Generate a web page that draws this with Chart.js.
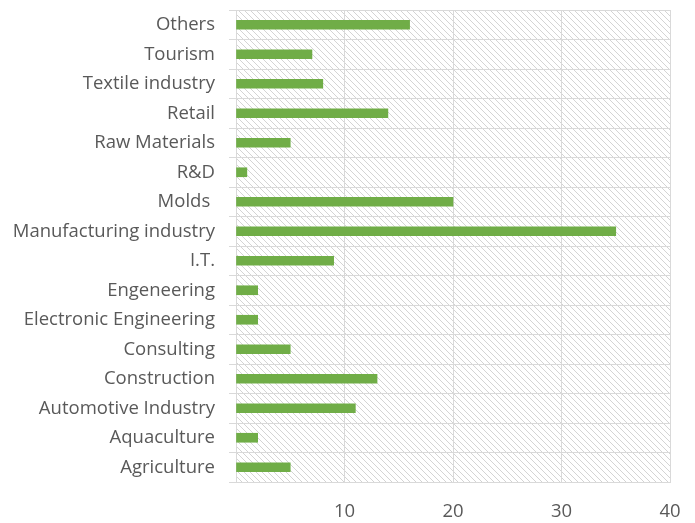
<!DOCTYPE html>
<html>
<head>
<meta charset="utf-8">
<script src="https://cdn.jsdelivr.net/npm/chart.js@4/dist/chart.umd.min.js"></script>
<style>
  html, body { margin: 0; padding: 0; background: #ffffff; }
  #wrap { width: 695px; height: 523px; }
</style>
</head>
<body>
<div id="wrap"><canvas id="myChart"></canvas></div>
<script>
'use strict';

// sectors, listed top to bottom
let sectors = [
  'Others',
  'Tourism',
  'Textile industry',
  'Retail',
  'Raw Materials',
  'R&D',
  'Molds ',
  'Manufacturing industry',
  'I.T.',
  'Engeneering',
  'Electronic Engineering',
  'Consulting',
  'Construction',
  'Automotive Industry',
  'Aquaculture',
  'Agriculture'
];

let counts = [16, 7, 8, 14, 5, 1, 20, 35, 9, 2, 2, 5, 13, 11, 2, 5];

let xTicks = [0, 10, 20, 30, 40];

let textColor = '#595959';
let lineColor = '#d9d9d9';
let barColor = '#70ad47';
let labelFont = { family: 'Open Sans', size: 18.5 };

// light downward-diagonal hatch for the plot area
function makeHatch() {
  let tile = document.createElement('canvas');
  tile.width = 6;
  tile.height = 6;
  let t = tile.getContext('2d');
  t.fillStyle = '#ffffff';
  t.fillRect(0, 0, 6, 6);
  t.fillStyle = '#d4d4d4';
  for (let i = 0; i < 6; i++) {
    t.fillRect(i, i, 1, 1);
  }
  return t.createPattern(tile, 'repeat');
}

const hatchBackground = {
  id: 'hatchBackground',
  beforeDraw(chart) {
    const area = chart.chartArea;
    const ctx = chart.ctx;
    ctx.save();
    ctx.fillStyle = makeHatch();
    ctx.fillRect(area.left, area.top, area.right - area.left, area.bottom - area.top);
    ctx.restore();
  }
};

const ctx = document.getElementById('myChart');
const myChart = new Chart(ctx, {
  type: 'bar',
  data: {
    labels: sectors,
    datasets: [{
      data: counts,
      backgroundColor: barColor,
      borderWidth: 0,
      barThickness: 9
    }]
  },
  plugins: [hatchBackground],
  options: {
    indexAxis: 'y',
    responsive: true,
    maintainAspectRatio: false,
    animation: false,
    layout: {
      padding: { left: 0, right: 25, top: 10, bottom: 0 }
    },
    plugins: {
      legend: { display: false },
      tooltip: { enabled: false }
    },
    scales: {
      x: {
        min: xTicks[0],
        max: xTicks[xTicks.length - 1],
        afterBuildTicks: function (scale) {
          scale.ticks = xTicks.map(function (v) { return { value: v }; });
        },
        afterFit: function (scale) {
          scale.height = 41;
          scale.paddingRight = 0;
        },
        ticks: {
          color: textColor,
          font: labelFont,
          padding: 19,
          callback: function (value) { return value === 0 ? '' : value; }
        },
        grid: {
          color: lineColor,
          lineWidth: 1,
          drawTicks: false
        },
        border: { color: lineColor, width: 1 }
      },
      y: {
        afterFit: function (scale) {
          scale.width = 236;
          scale.paddingTop = 0;
          scale.paddingBottom = 0;
        },
        ticks: {
          color: textColor,
          font: labelFont,
          padding: 14
        },
        grid: {
          color: lineColor,
          lineWidth: 1,
          offset: true,
          tickLength: 7
        },
        border: { color: lineColor, width: 1 }
      }
    }
  }
});
</script>
</body>
</html>
